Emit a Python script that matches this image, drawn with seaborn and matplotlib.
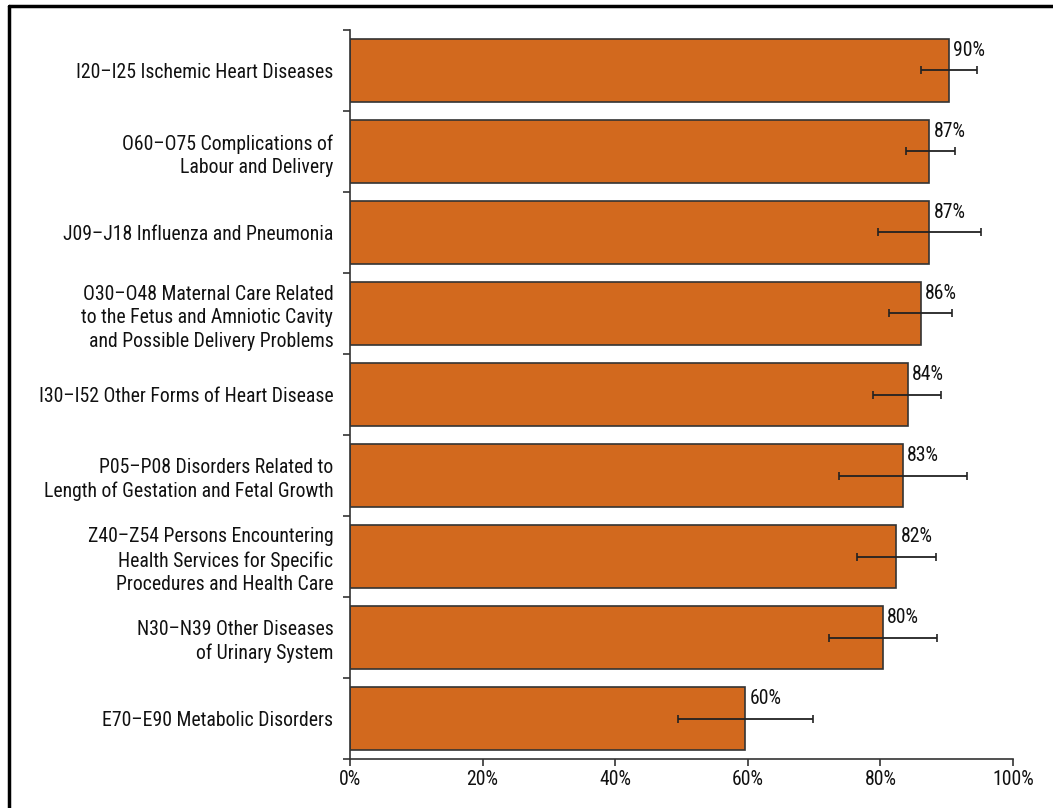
import matplotlib
matplotlib.use("Agg")
import matplotlib.pyplot as plt
from matplotlib import font_manager as fm
from matplotlib.lines import Line2D
from matplotlib.ticker import FixedLocator, PercentFormatter
from matplotlib.textpath import TextPath
from matplotlib.font_manager import FontProperties
import seaborn as sns
import pandas as pd
import numpy as np

# Share of cases per diagnosis group (%), with lower/upper interval bounds
categories = [
    "I20–I25 Ischemic Heart Diseases",
    "O60–O75 Complications of\nLabour and Delivery",
    "J09–J18 Influenza and Pneumonia",
    "O30–O48 Maternal Care Related\nto the Fetus and Amniotic Cavity\nand Possible Delivery Problems",
    "I30–I52 Other Forms of Heart Disease",
    "P05–P08 Disorders Related to\nLength of Gestation and Fetal Growth",
    "Z40–Z54 Persons Encountering\nHealth Services for Specific\nProcedures and Health Care",
    "N30–N39 Other Diseases\nof Urinary System",
    "E70–E90 Metabolic Disorders",
]
values = [90.3, 87.4, 87.4, 86.1, 84.1, 83.4, 82.4, 80.4, 59.6]
lower = [86.2, 83.8, 79.7, 81.3, 78.9, 73.7, 76.5, 72.2, 49.5]
upper = [94.5, 91.2, 95.2, 90.8, 89.2, 93.1, 88.4, 88.5, 69.8]
x_ticks = [0, 20, 40, 60, 80, 100]

sns.set_theme(style="white")

# Prefer a narrow sans face; size text so the first label spans ~256 px
installed = {f.name for f in fm.fontManager.ttflist}
preferred = ["Liberation Sans Narrow", "Arial Narrow", "Roboto Condensed",
             "Open Sans Condensed", "Noto Sans Condensed", "Liberation Sans"]
face = next((n for n in preferred if n in installed), "DejaVu Sans")
plt.rcParams["font.family"] = [face, "DejaVu Sans"]

probe = TextPath((0, 0), categories[0], size=10, prop=FontProperties(family=face))
probe_px = probe.get_extents().width * 100 / 72
fs = float(min(14.5, 10 * 256 / probe_px))

df = pd.DataFrame({"category": categories, "value": values})

fig = plt.figure(figsize=(10.53, 8.08), dpi=100)
ax = fig.add_axes([0.3324, 0.0606, 0.6296, 0.9023])

bar_color = "#D2691E"
edge = "#333333"
sns.barplot(data=df, x="value", y="category", orient="h", color=bar_color,
            edgecolor=edge, linewidth=1.2, width=0.77, saturation=1,
            errorbar=None, ax=ax)

ypos = np.arange(len(categories))
vals = np.array(values)
xerr = np.vstack([vals - np.array(lower), np.array(upper) - vals])
ax.errorbar(vals, ypos, xerr=xerr, fmt="none", ecolor="#222222",
            elinewidth=1.3, capsize=3.2, capthick=1.2, zorder=5)

for i, v in enumerate(values):
    ax.annotate(f"{v:.0f}%", xy=(v, i - 0.385), xytext=(3, -1.5),
                textcoords="offset points", ha="left", va="top",
                fontsize=fs, color="#111111")

ax.set_xlim(0, 100)
ax.set_ylim(len(categories) - 0.5, -0.5)
ax.xaxis.set_major_locator(FixedLocator(x_ticks))
ax.xaxis.set_major_formatter(PercentFormatter(decimals=0))
ax.set_xlabel("")
ax.set_ylabel("")

# Category labels sit at bar centres; tick marks fall between bars
ax.yaxis.set_minor_locator(FixedLocator(np.arange(-0.5, len(categories), 1.0)))
ax.tick_params(axis="y", which="major", length=0, pad=12, labelsize=fs,
               labelcolor="#111111")
ax.tick_params(axis="y", which="minor", left=True, length=5, width=1.2,
               color=edge, direction="out")
ax.tick_params(axis="x", which="major", bottom=True, length=5, width=1.2,
               color=edge, direction="out", pad=3, labelsize=fs,
               labelcolor="#111111")
for lbl in ax.get_yticklabels():
    lbl.set_multialignment("right")
    lbl.set_linespacing(1.3)

sns.despine(ax=ax, top=True, right=True)
for side in ("left", "bottom"):
    ax.spines[side].set_color(edge)
    ax.spines[side].set_linewidth(1.2)

# Frame lines along the top and left edges of the figure
fig.add_artist(Line2D([9 / 1053, 1.0], [1 - 5.5 / 808, 1 - 5.5 / 808],
                      transform=fig.transFigure, color="black", linewidth=2.5))
fig.add_artist(Line2D([9 / 1053, 9 / 1053], [0.0, 1 - 5.5 / 808],
                      transform=fig.transFigure, color="black", linewidth=2.5))

fig.savefig("out.png", dpi=100)
